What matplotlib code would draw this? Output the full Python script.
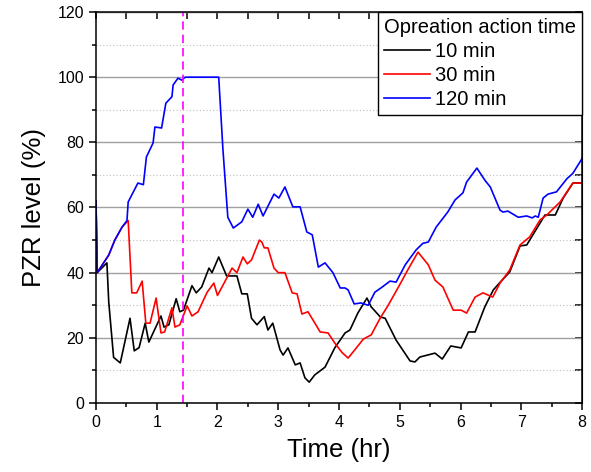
import matplotlib
matplotlib.use("Agg")
import matplotlib.pyplot as plt
from matplotlib.ticker import MultipleLocator

plt.rcParams['font.family'] = ['Liberation Sans', 'DejaVu Sans']

# 10 min
t_10 = [0, 0.02, 0.18, 0.21, 0.29, 0.40, 0.56, 0.63, 0.71, 0.81, 0.87, 1.07, 1.12, 1.20,
        1.32, 1.38, 1.44, 1.58, 1.65, 1.74, 1.86, 1.91, 2.02, 2.15, 2.32, 2.40, 2.49,
        2.56, 2.65, 2.77, 2.83, 2.91, 3.03, 3.08, 3.16, 3.28, 3.36, 3.44, 3.51, 3.60,
        3.77, 3.93, 4.10, 4.18, 4.31, 4.46, 4.53, 4.68, 4.76, 4.94, 5.17, 5.25, 5.33,
        5.58, 5.70, 5.84, 6.01, 6.13, 6.24, 6.40, 6.54, 6.65, 6.81, 6.98, 7.09, 7.39,
        7.56, 7.69, 7.85, 8.0]
v_10 = [62, 40, 43, 31, 14, 12.3, 26, 16, 17, 24.5, 18.7, 26.7, 23.3, 24, 32, 28, 28.5,
        36, 33.8, 35.6, 41.4, 40, 44.8, 39, 39, 33.5, 33.5, 26, 24, 26.5, 22.4, 24.5,
        16.3, 14.7, 16.9, 11.7, 12.3, 7.7, 6.4, 8.6, 11, 16.9, 21.5, 22.4, 27.6, 32.2,
        29.5, 26.4, 26, 19.3, 12.9, 12.6, 14.1, 15.3, 13.5, 17.5, 16.9, 21.8, 21.8,
        29.5, 34.7, 37, 40.2, 48.2, 48.5, 57.7, 57.7, 62.9, 67.5, 67.5]

# 30 min
t_30 = [0, 0.02, 0.21, 0.31, 0.43, 0.53, 0.59, 0.67, 0.76, 0.82, 0.89, 0.99, 1.07, 1.13,
        1.25, 1.30, 1.38, 1.50, 1.58, 1.68, 1.83, 1.94, 2.00, 2.24, 2.32, 2.42, 2.49,
        2.56, 2.69, 2.73, 2.77, 2.83, 2.93, 3.00, 3.11, 3.23, 3.31, 3.39, 3.49, 3.69,
        3.82, 3.93, 4.05, 4.15, 4.26, 4.40, 4.53, 4.68, 4.81, 4.97, 5.14, 5.30, 5.47,
        5.58, 5.71, 5.88, 6.01, 6.10, 6.24, 6.37, 6.53, 6.65, 6.81, 6.98, 7.14, 7.31,
        7.42, 7.64, 7.85, 8.0]
v_30 = [62, 40, 45.4, 50, 54, 56, 33.8, 33.8, 37.4, 24.5, 24.5, 32.2, 21.5, 21.8, 29.2,
        23.3, 24, 29.8, 26.7, 28, 34, 36.8, 33, 41.4, 40, 44.8, 42.7, 43.9, 50, 49.4,
        47.6, 47.6, 41.4, 40, 40, 33.8, 33.5, 27.3, 28, 21.8, 21.5, 18.4, 15.5, 13.8,
        16.3, 19.6, 20.9, 26.1, 30, 35.3, 41.1, 46.3, 42.4, 37.7, 35.6, 28.5, 28.5,
        27.6, 32.5, 33.8, 32.5, 36.8, 40.8, 48.5, 51, 56.2, 57.7, 61.7, 67.5, 67.5]

# 120 min
t_120 = [0, 0.02, 0.21, 0.31, 0.43, 0.51, 0.53, 0.69, 0.78, 0.83, 0.94, 0.97, 1.08, 1.15,
         1.25, 1.27, 1.35, 1.41, 1.47, 2.02, 2.09, 2.17, 2.26, 2.40, 2.50, 2.58, 2.67,
         2.75, 2.93, 3.01, 3.11, 3.24, 3.36, 3.47, 3.56, 3.66, 3.77, 3.90, 4.02, 4.10,
         4.15, 4.25, 4.36, 4.48, 4.59, 4.69, 4.84, 4.94, 5.09, 5.27, 5.38, 5.47, 5.60,
         5.79, 5.91, 6.04, 6.10, 6.27, 6.40, 6.49, 6.65, 6.70, 6.78, 6.95, 7.09, 7.18,
         7.23, 7.28, 7.36, 7.44, 7.58, 7.75, 7.85, 8.0]
v_120 = [62, 40, 45.4, 50, 54, 56, 61.7, 67.5, 67, 75.5, 79.8, 84.7, 84.4, 92, 94, 97.6,
         99.7, 99.1, 100, 100, 77.7, 57, 53.7, 55.6, 59.5, 57, 61, 57.4, 64.1, 62.9,
         66.3, 60.2, 60.2, 52.5, 51.6, 41.7, 43, 40, 35.3, 35.3, 34.7, 30.4, 30.7, 30,
         34, 35.3, 37.4, 37.1, 42.4, 47, 49, 49.4, 54, 58.6, 62.3, 64.5, 67.8, 72.1,
         68.4, 66.3, 59.2, 58.6, 58.9, 57, 57.4, 56.8, 57.4, 57, 62.9, 64.1, 64.8, 68.8,
         70.5, 75]

action_time = 1.43
labels = ['10 min', '30 min', '120 min']

fig = plt.figure(figsize=(5.91, 4.72), dpi=100)
ax = fig.add_axes([0.1624, 0.1462, 0.8224, 0.8284])

ax.plot(t_10, v_10, color='black', lw=1.2, label=labels[0])
ax.plot(t_30, v_30, color='#ff0000', lw=1.2, label=labels[1])
ax.plot(t_120, v_120, color='#0000ff', lw=1.2, label=labels[2])
ax.axvline(action_time, color='#ff00ff', lw=1.2, ls=(0, (5, 3)))

ax.set_xlim(0, 8)
ax.set_ylim(0, 120)
ax.xaxis.set_major_locator(MultipleLocator(1))
ax.xaxis.set_minor_locator(MultipleLocator(0.5))
ax.yaxis.set_major_locator(MultipleLocator(20))
ax.yaxis.set_minor_locator(MultipleLocator(10))

ax.grid(True, which='major', axis='y', color='#a0a0a0', lw=1.0)
ax.grid(True, which='minor', axis='y', color='#c0c0c0', lw=0.8, ls=(0, (1, 2)))
ax.set_axisbelow(True)

for s in ax.spines.values():
    s.set_linewidth(1.1)

ax.tick_params(which='both', direction='out', top=False, right=False, labelsize=11.5, width=1.1)
ax.tick_params(which='major', length=5)
ax.tick_params(which='minor', length=3)
sec_x = ax.secondary_xaxis('top')
sec_x.set_xticks(range(0, 9))
sec_x.xaxis.set_minor_locator(MultipleLocator(0.5))
sec_x.tick_params(which='both', direction='in', labeltop=False, width=1.1)
sec_x.tick_params(which='major', length=5)
sec_x.tick_params(which='minor', length=5)
sec_y = ax.secondary_yaxis('right')
sec_y.set_yticks(range(0, 121, 20))
sec_y.yaxis.set_minor_locator(MultipleLocator(10))
sec_y.tick_params(which='both', direction='in', labelright=False, width=1.1)
sec_y.tick_params(which='major', length=5)
sec_y.tick_params(which='minor', length=5)

ax.set_xlabel('Time (hr)', fontsize=18.5, labelpad=6)
ax.set_ylabel('PZR level (%)', fontsize=18.5, labelpad=8)

leg = ax.legend(title='Opreation action time', loc='upper right', fontsize=14.5,
                title_fontsize=14.5, frameon=True, fancybox=False, edgecolor='black',
                framealpha=1, borderaxespad=0, borderpad=0.3, handlelength=2.3,
                handletextpad=0.25, labelspacing=0.25, alignment='left')
leg.get_frame().set_linewidth(1.0)
for h in leg.get_lines():
    h.set_linewidth(1.2)

fig.savefig('out.png', dpi=100)
